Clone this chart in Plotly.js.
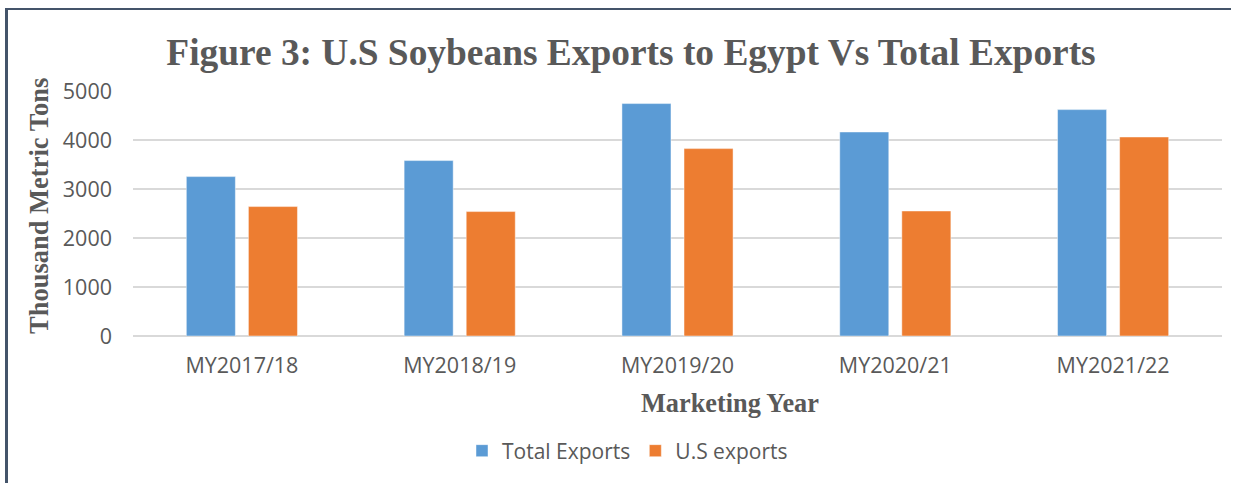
<!DOCTYPE html>
<html>
<head>
<meta charset="utf-8">
<script src="https://cdn.plot.ly/plotly-3.0.1.min.js"></script>
<style>
  html, body { margin: 0; padding: 0; background: #fff; }
  #chart { width: 1241px; height: 483px; }
  #frame { position: absolute; left: 5px; top: 8px; width: 1223px; height: 480px;
           border-left: 3px solid #44546A; border-top: 2.5px solid #44546A; pointer-events: none; }
</style>
</head>
<body>
<div id="chart"></div>
<div id="frame"></div>
<script>
const categories = ["MY2017/18", "MY2018/19", "MY2019/20", "MY2020/21", "MY2021/22"];
const totalExports = [3253, 3580, 4743, 4163, 4620];
const usExports = [2641, 2539, 3824, 2551, 4061];
const seriesNames = ["Total Exports", "U.S exports"];
const yTicks = [0, 1000, 2000, 3000, 4000, 5000];

const gray = "#595959";
const serif = "'Liberation Serif', 'Times New Roman', serif";
const sans = "'Open Sans', 'Noto Sans', sans-serif";

const traces = [
  { type: "bar", name: seriesNames[0], x: categories, y: totalExports,
    marker: { color: "#5B9BD5", line: { color: "rgba(255,255,255,0.45)", width: 1 } }, hoverinfo: "y" },
  { type: "bar", name: seriesNames[1], x: categories, y: usExports,
    marker: { color: "#ED7D31", line: { color: "rgba(255,255,255,0.45)", width: 1 } }, hoverinfo: "y" }
];

const layout = {
  width: 1241, height: 483,
  margin: { l: 133, r: 19, t: 91, b: 147 },
  paper_bgcolor: "#fff", plot_bgcolor: "#fff",
  barmode: "group", bargap: 0.43, bargroupgap: 0.21,
  title: {
    text: "Figure 3: U.S Soybeans Exports to Egypt Vs Total Exports",
    font: { family: serif, size: 37.4, color: gray, weight: "bold" },
    x: 631 / 1241, xref: "container", xanchor: "center",
    y: 1 - 52 / 483, yref: "container", yanchor: "middle"
  },
  xaxis: {
    type: "category",
    tickfont: { family: sans, size: 21.5, color: gray },
    showgrid: false, showline: false, ticks: "", ticklabelstandoff: 14
  },
  yaxis: {
    range: [0, 5000], tickvals: yTicks, ticktext: yTicks.map(String),
    tickfont: { family: sans, size: 21.5, color: gray },
    showgrid: true, gridcolor: "#D9D9D9", gridwidth: 1.3,
    zeroline: true, zerolinecolor: "#D9D9D9", zerolinewidth: 1.5,
    showline: false, ticks: "", ticklabelstandoff: 20
  },
  showlegend: true,
  legend: {
    orientation: "h", x: 462 / 1241, xref: "container", xanchor: "left",
    y: 1 - 451 / 483, yref: "container", yanchor: "middle",
    font: { family: sans, size: 21, color: gray },
    itemwidth: 30, traceorder: "normal"
  },
  annotations: [
    { text: "<b>Marketing Year</b>", xref: "paper", yref: "paper",
      x: (730 - 133) / 1089, y: -(403 - 336) / 245, xanchor: "center", yanchor: "middle",
      showarrow: false, font: { family: serif, size: 26.3, color: gray } },
    { text: "<b>Thousand Metric Tons</b>", xref: "paper", yref: "paper",
      x: (39 - 133) / 1089, y: (336 - 206) / 245, xanchor: "center", yanchor: "middle",
      textangle: -90, showarrow: false, font: { family: serif, size: 26.5, color: gray } }
  ]
};

Plotly.newPlot("chart", traces, layout, { displayModeBar: false, staticPlot: true });
</script>
</body>
</html>
